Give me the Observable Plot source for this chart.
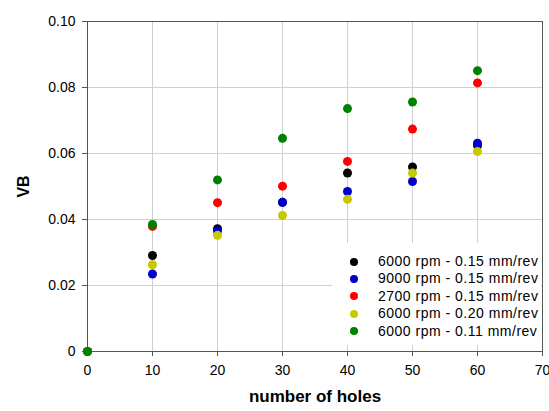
<!DOCTYPE html>
<html><head><meta charset="utf-8">
<script src="https://cdn.jsdelivr.net/npm/d3@7"></script>
<script src="https://cdn.jsdelivr.net/npm/@observablehq/plot@0.6"></script>
<style>
body{margin:0;background:#fff;}
#wrap{position:relative;width:549px;height:411px;font-family:"Liberation Sans",Arial,sans-serif;}
#legend{position:absolute;left:332px;top:243px;width:209px;height:102px;background:#fff;padding-top:10px;box-sizing:border-box;}
.row{height:17.4px;line-height:17.4px;font-size:14px;letter-spacing:0.5px;color:#000;position:relative;white-space:nowrap;}
.row span.dot{position:absolute;left:18px;top:4.7px;width:8px;height:8px;border-radius:50%;}
.row span.t{position:absolute;left:46px;}
</style></head>
<body><div id="wrap"></div>
<script>
const holes = [0, 10, 20, 30, 40, 50, 60];
const seriesNames = [
  "6000 rpm - 0.15 mm/rev",
  "9000 rpm - 0.15 mm/rev",
  "2700 rpm - 0.15 mm/rev",
  "6000 rpm - 0.20 mm/rev",
  "6000 rpm - 0.11 mm/rev"
];
const seriesColors = ["#000000", "#0000cc", "#ff0000", "#c8c800", "#008000"];
const vb6000_015 = [0, 0.0291, 0.0372, 0.0452, 0.0541, 0.0559, 0.0624];
const vb9000_015 = [0, 0.0235, 0.0365, 0.0452, 0.0485, 0.0515, 0.0631];
const vb2700_015 = [0, 0.0379, 0.0451, 0.0501, 0.0576, 0.0674, 0.0814];
const vb6000_020 = [0, 0.0263, 0.0352, 0.0412, 0.0461, 0.0541, 0.0606];
const vb6000_011 = [0, 0.0385, 0.0520, 0.0646, 0.0736, 0.0756, 0.0851];
const xTicks = [0, 10, 20, 30, 40, 50, 60, 70];
const yTicks = [0, 0.02, 0.04, 0.06, 0.08, 0.10];

const allSeries = [vb6000_015, vb9000_015, vb2700_015, vb6000_020, vb6000_011];
const data = [];
allSeries.forEach((vals, i) => vals.forEach((v, j) => data.push({holes: holes[j], vb: v, series: seriesNames[i]})));

const font = '"Liberation Sans", Arial, sans-serif';
const chart = Plot.plot({
  width: 549, height: 411,
  marginLeft: 87, marginRight: 7, marginTop: 21, marginBottom: 60,
  style: {fontFamily: font, fontSize: "14px", color: "#000", background: "#fff", overflow: "visible"},
  x: {domain: [0, 70]},
  y: {domain: [0, 0.10]},
  color: {domain: seriesNames, range: seriesColors},
  marks: [
    Plot.gridX(xTicks.slice(1, -1), {stroke: "#d0d0d0", strokeOpacity: 1, strokeWidth: 1}),
    Plot.gridY(yTicks.slice(1, -1), {stroke: "#d0d0d0", strokeOpacity: 1, strokeWidth: 1}),
    Plot.frame({stroke: "#555"}),
    Plot.axisX({ticks: xTicks, tickSize: 5, tickPadding: 9, stroke: "#555", tickFormat: d => String(d), label: null}),
    Plot.axisY({ticks: yTicks, tickSize: 5, tickPadding: 7, stroke: "#555", tickFormat: d => d === 0 ? "0" : d.toFixed(2), label: null}),
    Plot.axisX({ticks: [], label: "number of holes", labelAnchor: "center", labelArrow: "none", labelOffset: 50, fontWeight: "bold", fontSize: 17}),
    Plot.axisY({ticks: [], label: "VB", labelAnchor: "center", labelArrow: "none", labelOffset: 70, fontWeight: "bold", fontSize: 16}),
    Plot.dot(data, {x: "holes", y: "vb", fill: "series", r: 4.5, stroke: null})
  ]
});
const wrap = document.getElementById("wrap");
wrap.appendChild(chart);
const leg = document.createElement("div");
leg.id = "legend";
seriesNames.forEach((n, i) => {
  const r = document.createElement("div");
  r.className = "row";
  r.innerHTML = `<span class="dot" style="background:${seriesColors[i]}"></span><span class="t">${n}</span>`;
  leg.appendChild(r);
});
wrap.appendChild(leg);
</script></body></html>
